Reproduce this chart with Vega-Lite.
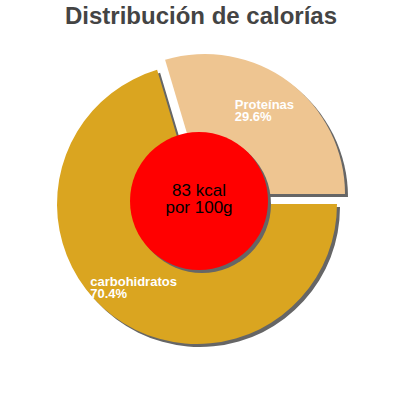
{
  "$schema": "https://vega.github.io/schema/vega-lite/v6.json",
  "autosize": "none",
  "padding": {"top": 40, "left": 0, "right": 0, "bottom": 0},
  "width": 394,
  "height": 328,
  "title": {
    "text": "Distribución de calorías",
    "font": "Liberation Sans",
    "fontSize": 24,
    "fontWeight": "bold",
    "color": "#444444",
    "anchor": "middle",
    "baseline": "alphabetic",
    "offset": -8,
    "dx": 4
  },
  "config": {"view": {"stroke": null}},
  "datasets": {
    "calorias": [
      {"nutriente": "carbohidratos", "pct": 70.4, "etiqueta": "carbohidratos\n70.4%"},
      {"nutriente": "Proteínas", "pct": 29.6, "etiqueta": "Proteínas\n29.6%"}
    ],
    "centro": [
      {"texto": "83 kcal\npor 100g"}
    ]
  },
  "layer": [
    {
      "data": {"name": "calorias"},
      "encoding": {
        "theta": {"field": "pct", "type": "quantitative", "stack": true, "scale": {"range": [1.5707963, 7.8539816]}},
        "order": {"field": "nutriente", "sort": "descending"}
      },
      "layer": [
        {
          "mark": {"type": "arc", "radius": 140, "xOffset": 3, "yOffset": 3, "color": "#666666"},
          "encoding": {
            "opacity": {"condition": {"test": "datum.nutriente === 'carbohidratos'", "value": 1}, "value": 0}
          }
        },
        {
          "mark": {"type": "arc", "radius": 140, "xOffset": 11, "yOffset": -7, "color": "#666666"},
          "encoding": {
            "opacity": {"condition": {"test": "datum.nutriente === 'Proteínas'", "value": 1}, "value": 0}
          }
        },
        {
          "mark": {"type": "arc", "radius": 140, "color": "#DAA520"},
          "encoding": {
            "opacity": {"condition": {"test": "datum.nutriente === 'carbohidratos'", "value": 1}, "value": 0}
          }
        },
        {
          "mark": {"type": "arc", "radius": 140, "xOffset": 8, "yOffset": -10, "color": "#EEC591"},
          "encoding": {
            "opacity": {"condition": {"test": "datum.nutriente === 'Proteínas'", "value": 1}, "value": 0}
          }
        },
        {
          "mark": {"type": "text", "radius": 110, "align": "left", "baseline": "top", "dx": -41, "dy": -16, "lineBreak": "\n", "lineHeight": 12, "font": "Liberation Sans", "fontSize": 13, "fontWeight": "bold", "color": "white"},
          "encoding": {
            "text": {"condition": {"test": "datum.nutriente === 'carbohidratos'", "field": "etiqueta"}, "value": ""}
          }
        },
        {
          "mark": {"type": "text", "radius": 100, "xOffset": 8, "yOffset": -10, "align": "left", "baseline": "top", "dx": -30, "dy": -15, "lineBreak": "\n", "lineHeight": 12, "font": "Liberation Sans", "fontSize": 13, "fontWeight": "bold", "color": "white"},
          "encoding": {
            "text": {"condition": {"test": "datum.nutriente === 'Proteínas'", "field": "etiqueta"}, "value": ""}
          }
        }
      ]
    },
    {
      "data": {"name": "centro"},
      "mark": {"type": "arc", "radius": 69, "xOffset": 5, "yOffset": 0, "color": "#666666"},
      "encoding": {}
    },
    {
      "data": {"name": "centro"},
      "mark": {"type": "arc", "radius": 69, "xOffset": 2, "yOffset": -3, "color": "#FF0000"},
      "encoding": {}
    },
    {
      "data": {"name": "centro"},
      "mark": {"type": "text", "align": "center", "baseline": "alphabetic", "dx": 2, "dy": -8, "lineBreak": "\n", "lineHeight": 17, "font": "Liberation Sans", "fontSize": 17, "color": "black"},
      "encoding": {"text": {"field": "texto"}}
    }
  ]
}
